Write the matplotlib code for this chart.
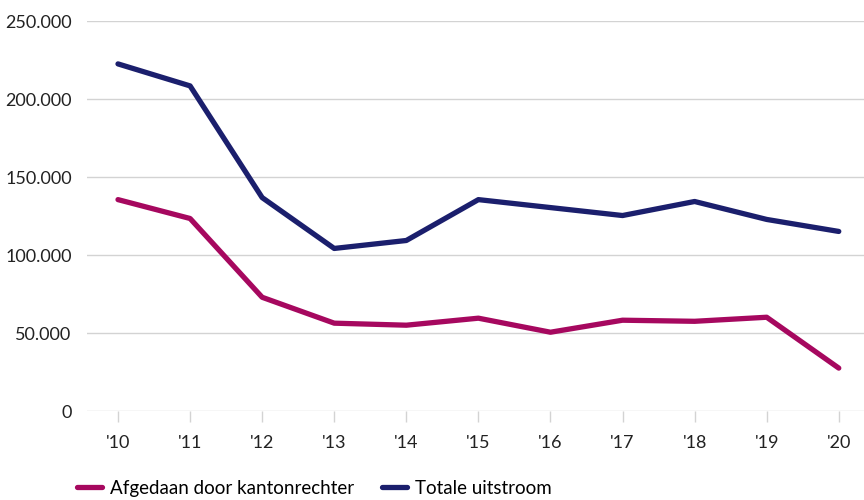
import matplotlib
matplotlib.use("Agg")
import matplotlib.pyplot as plt
from matplotlib.ticker import FuncFormatter

plt.rcParams['font.family'] = ['Lato', 'DejaVu Sans']

years = ["'10", "'11", "'12", "'13", "'14", "'15", "'16", "'17", "'18", "'19", "'20"]
kanton = [135500, 123400, 72900, 56300, 55000, 59500, 50500, 58200, 57500, 60100, 27500]
totaal = [222500, 208400, 136800, 104200, 109300, 135500, 130400, 125300, 134300, 122800, 115100]

pink = '#a6085f'
navy = '#1b1f6d'

fig = plt.figure(figsize=(8.64, 5), dpi=100)
ax = fig.add_axes([0.1007, 0.178, 0.8993, 0.78])

x = list(range(len(years)))
ax.plot(x, kanton, color=pink, lw=3.8, solid_capstyle='round', solid_joinstyle='round',
        label='Afgedaan door kantonrechter')
ax.plot(x, totaal, color=navy, lw=3.8, solid_capstyle='round', solid_joinstyle='round',
        label='Totale uitstroom')

ax.set_ylim(0, 250000)
ax.set_xlim(-0.43, 10.35)
ax.set_yticks(range(0, 250001, 50000))
ax.yaxis.set_major_formatter(FuncFormatter(lambda v, p: f"{int(v):,}".replace(",", ".")))
ax.set_xticks(x)
ax.set_xticklabels(years)

ax.grid(axis='y', color='#d3d3d3', lw=1)
ax.set_axisbelow(True)
for s in ax.spines.values():
    s.set_visible(False)
ax.tick_params(axis='y', length=0, pad=11, labelsize=13, labelcolor='#222222')
ax.tick_params(axis='x', length=8, width=1, color='#d3d3d3', pad=9, labelsize=13,
               labelcolor='#222222')

fig.legend(loc='upper left', bbox_to_anchor=(0.089, 0.04), ncol=2, frameon=False,
           fontsize=13.5, handlelength=1.33, columnspacing=1.5, handletextpad=0.43,
           borderpad=0, borderaxespad=0)

fig.savefig('out.png', dpi=100)
